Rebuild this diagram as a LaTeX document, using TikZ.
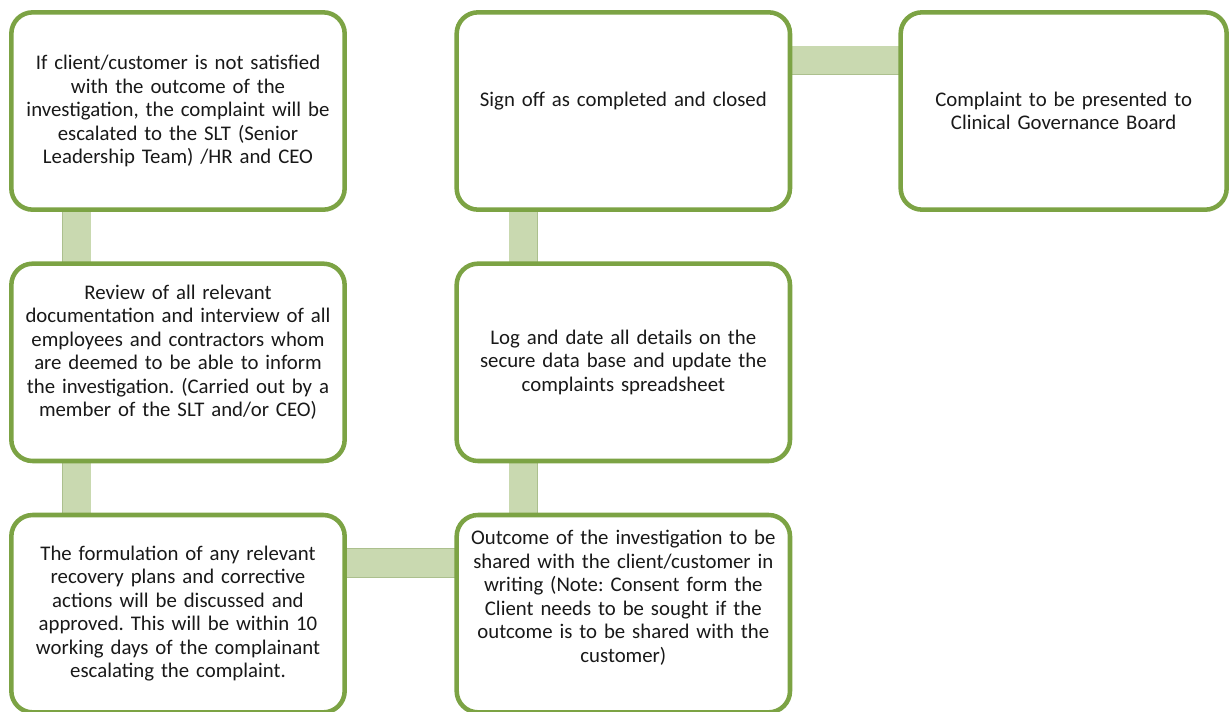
\documentclass[tikz,border=0pt]{standalone}
\usepackage{fontspec}
\setmainfont{Carlito}
\frenchspacing
\usetikzlibrary{positioning,backgrounds}
\definecolor{boxborder}{RGB}{124,163,68}
\definecolor{linkfill}{RGB}{201,217,176}
\definecolor{linkedge}{RGB}{172,192,142}
\tikzset{
	stepbox/.style={rectangle, draw=boxborder, line width=3.4pt, rounded corners=16pt, fill=white, minimum width=250pt, minimum height=148pt, text width=240pt, align=center, font=\fontsize{15.6pt}{17.6pt}\selectfont, text=black!90, outer sep=0pt, inner sep=0pt},
	link/.style={draw=linkedge, line width=0.5pt, double=linkfill, double distance=21pt}
}
\begin{document}
\begin{tikzpicture}[x=0.75pt, y=-0.75pt, node distance=40.5pt and 84pt]
	\clip (0,0) rectangle (1230,711);

	% --- Boxes ---
	\node[stepbox] (escalate) at (178,111) {If client/customer is not satisfied\\with the outcome of the\\investigation, the complaint will be\\escalated to the SLT (Senior\\Leadership Team) /HR and CEO};
	\node[stepbox, below=of escalate] (review) {Review of all relevant\\documentation and interview of all\\employees and contractors whom\\are deemed to be able to inform\\the investigation. (Carried out by a\\member of the SLT and/or CEO)\\\mbox{}};
	\node[stepbox, below=of review] (formulate) {The formulation of any relevant\\recovery plans and corrective\\actions will be discussed and\\approved. This will be within 10\\working days of the complainant\\escalating the complaint.};
	\node[stepbox, right=of formulate] (outcome) {Outcome of the investigation to be\\shared with the client/customer in\\writing (Note: Consent form the\\Client needs to be sought if the\\outcome is to be shared with the\\customer)\\[8.6pt]\mbox{}};
	\node[stepbox, above=of outcome] (logdate) {Log and date all details on the\\secure data base and update the\\complaints spreadsheet};
	\node[stepbox, above=of logdate] (signoff) {Sign off as completed and closed\\\mbox{}};
	\node[stepbox, right=83pt of signoff, minimum width=244.5pt] (governance) {Complaint to be presented to\\Clinical Governance Board};

	% --- Connections ---
	\begin{scope}[on background layer]
		\draw[link] ([xshift=49pt]escalate.south west) -- ([xshift=49pt]review.north west);
		\draw[link] ([xshift=49pt]review.south west) -- ([xshift=49pt]formulate.north west);
		\draw[link] ([yshift=-36pt]formulate.north east) -- ([yshift=-36pt]outcome.north west);
		\draw[link] ([xshift=50pt]outcome.north west) -- ([xshift=50pt]logdate.south west);
		\draw[link] ([xshift=50pt]logdate.north west) -- ([xshift=50pt]signoff.south west);
		\draw[link] ([yshift=-36pt]signoff.north east) -- ([yshift=-36pt]governance.north west);
	\end{scope}

\end{tikzpicture}
\end{document}
